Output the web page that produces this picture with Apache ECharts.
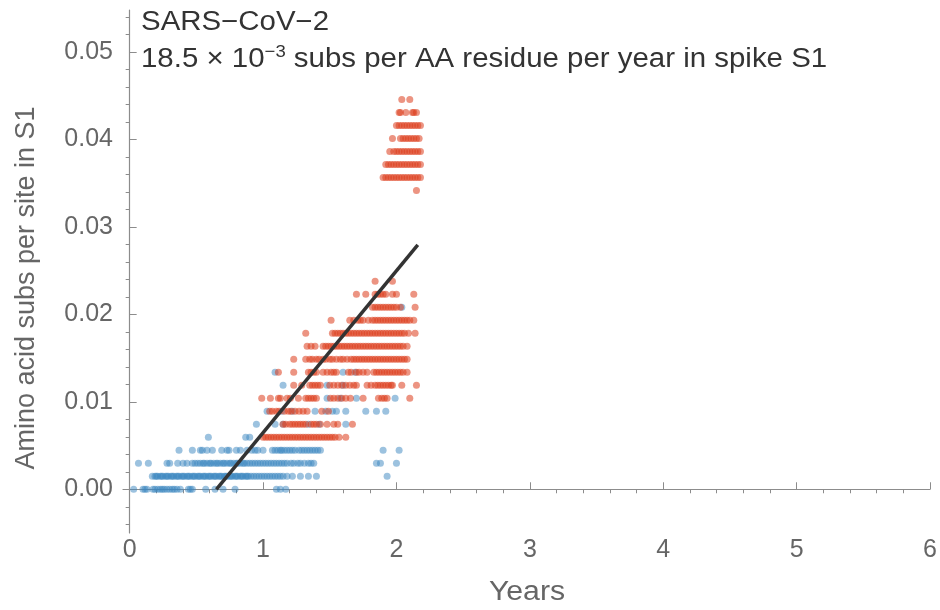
<!DOCTYPE html>
<html>
<head>
<meta charset="utf-8">
<script src="https://cdn.jsdelivr.net/npm/echarts@6/dist/echarts.min.js"></script>
<style>
html,body{margin:0;padding:0;background:#fff;}
#chart{width:940px;height:610px;}
</style>
</head>
<body>
<div id="chart"></div>
<script>
// Discrete substitution levels (subs per site), index = number of AA substitutions
const yLevels = [0, 0.001486, 0.002972, 0.004458, 0.005944, 0.007429, 0.008915, 0.010401,
  0.011887, 0.013373, 0.014859, 0.016345, 0.017831, 0.019316, 0.020802, 0.022288, 0.023774,
  0.025260, 0.026746, 0.028232, 0.029718, 0.031204, 0.032689, 0.034175, 0.035661, 0.037147,
  0.038633, 0.040119, 0.041605, 0.043091, 0.044577];

// Blue points: [level index, years...]
const blueRows = [
  [0, [0.03,0.10,0.115,0.13,0.175,0.19,0.21,0.23,0.245,0.26,0.28,0.30,0.32,0.335,0.355,0.38,0.44,0.455,0.47,0.57,0.64,0.70,0.79,1.10,1.13,1.17]],
  [1, [0.17,0.19,0.20,0.21,0.23,0.24,0.25,0.27,0.28,0.29,0.31,0.32,0.33,0.35,0.36,0.37,0.39,0.40,0.41,0.43,0.44,0.45,0.47,0.48,0.49,0.51,0.52,0.53,0.55,0.56,0.57,0.59,0.60,0.61,0.63,0.64,0.65,0.67,0.68,0.69,0.71,0.72,0.73,0.75,0.76,0.77,0.79,0.80,0.81,0.83,0.84,0.85,0.87,0.88,0.89,0.91,0.93,0.95,0.97,0.99,1.01,1.03,1.05,1.07,1.09,1.11,1.13,1.15,1.18,1.22,1.28,1.34,1.40,1.93]],
  [2, [0.066,0.14,0.28,0.30,0.36,0.40,0.43,0.47,0.49,0.51,0.53,0.55,0.56,0.58,0.60,0.61,0.63,0.65,0.66,0.68,0.70,0.71,0.73,0.75,0.76,0.78,0.80,0.81,0.83,0.85,0.86,0.88,0.90,0.92,0.94,0.96,0.98,1.00,1.02,1.04,1.06,1.08,1.10,1.12,1.14,1.16,1.18,1.21,1.23,1.26,1.28,1.31,1.34,1.36,1.38,1.85,1.88,2.00]],
  [3, [0.37,0.47,0.53,0.545,0.58,0.62,0.69,0.73,0.745,0.80,0.83,0.88,0.915,0.94,0.96,1.00,1.07,1.09,1.11,1.13,1.14,1.16,1.18,1.20,1.22,1.24,1.27,1.29,1.31,1.33,1.35,1.37,1.39,1.41,1.43,1.90,2.02]],
  [4, [0.59,0.87,0.90]],
  [5, [0.95,1.09,1.15,1.34,1.42,1.62]],
  [6, [1.03,1.14,1.22,1.39,1.47,1.52,1.55,1.62,1.77,1.85,1.92]],
  [7, [1.48,1.58,1.70,1.99]],
  [8, [1.15,1.48,1.60]],
  [9, [1.09,1.60,1.69]],
  [14, [2.04]]
];

// Red points: [level index, years...]
const redRows = [
  [4, [1.00,1.02,1.04,1.06,1.08,1.10,1.12,1.14,1.16,1.18,1.20,1.22,1.24,1.26,1.28,1.30,1.32,1.34,1.36,1.38,1.40,1.42,1.44,1.46,1.48,1.50,1.52,1.54,1.57,1.62]],
  [5, [1.15,1.17,1.20,1.22,1.24,1.26,1.28,1.30,1.32,1.36,1.38,1.40,1.43,1.48,1.53,1.56,1.67]],
  [6, [1.05,1.07,1.10,1.12,1.16,1.19,1.21,1.24,1.27,1.30,1.33,1.44,1.49]],
  [7, [0.99,1.055,1.115,1.13,1.18,1.205,1.265,1.32,1.34,1.36,1.38,1.40,1.505,1.53,1.56,1.59,1.62,1.655,1.75,1.865,1.89,1.91,1.93,2.10]],
  [8, [1.23,1.29,1.35,1.37,1.39,1.41,1.43,1.50,1.53,1.56,1.59,1.62,1.65,1.68,1.70,1.78,1.81,1.84,1.86,1.88,1.90,1.92,1.94,1.96,1.97,2.04,2.15]],
  [9, [1.115,1.23,1.34,1.36,1.38,1.40,1.45,1.48,1.51,1.53,1.55,1.64,1.66,1.70,1.72,1.75,1.78,1.83,1.85,1.87,1.89,1.91,1.93,1.95,1.97,1.99,2.01,2.03,2.05,2.08]],
  [10, [1.23,1.32,1.35,1.37,1.40,1.42,1.45,1.47,1.50,1.52,1.55,1.58,1.60,1.63,1.66,1.68,1.70,1.72,1.74,1.76,1.78,1.80,1.82,1.84,1.86,1.88,1.90,1.92,1.94,1.96,1.98,2.00,2.02,2.04,2.06,2.08]],
  [11, [1.33,1.36,1.39,1.45,1.47,1.49,1.51,1.53,1.55,1.57,1.59,1.61,1.63,1.65,1.67,1.69,1.71,1.73,1.75,1.77,1.79,1.81,1.83,1.85,1.87,1.89,1.91,1.93,1.95,1.97,1.99,2.01,2.03,2.05,2.08]],
  [12, [1.32,1.52,1.54,1.56,1.58,1.60,1.62,1.64,1.66,1.68,1.70,1.72,1.74,1.76,1.78,1.80,1.82,1.84,1.86,1.88,1.90,1.92,1.94,1.96,1.98,2.00,2.02,2.04,2.06,2.09,2.14]],
  [13, [1.51,1.65,1.68,1.71,1.73,1.75,1.79,1.82,1.84,1.86,1.88,1.90,1.92,1.94,1.96,1.98,2.00,2.02,2.04,2.06,2.08,2.10,2.13]],
  [14, [1.82,1.84,1.86,1.88,1.90,1.92,1.94,1.96,1.98,2.00,2.03,2.14]],
  [15, [1.70,1.77,1.84,1.86,1.88,1.90,1.92,1.97,2.00,2.13]],
  [16, [1.84,1.97]],
  [23, [2.15]],
  [24, [1.90,1.92,1.94,1.96,1.98,2.00,2.02,2.04,2.06,2.08,2.10,2.12,2.14,2.16,2.18]],
  [25, [1.92,1.94,1.96,1.98,2.00,2.02,2.04,2.06,2.08,2.10,2.12,2.14,2.16,2.18]],
  [26, [1.95,1.98,2.00,2.02,2.04,2.06,2.08,2.10,2.12,2.14,2.16,2.18]],
  [27, [1.97,2.03,2.05,2.07,2.09,2.11,2.13,2.15,2.17]],
  [28, [2.00,2.02,2.04,2.06,2.08,2.10,2.12,2.14,2.16,2.18]],
  [29, [2.02,2.03,2.07,2.12,2.13,2.15]],
  [30, [2.04,2.10]]
];

// Linear fit (18.5e-3 per year)
const fitX = [0.65, 2.16];
const fitY = [0, 0.02794];

// Ticks
const xMajor = [0, 1, 2, 3, 4, 5, 6];
const xMajorLabels = ['0', '1', '2', '3', '4', '5', '6'];
const yMajor = [0, 0.01, 0.02, 0.03, 0.04, 0.05];
const yMajorLabels = ['0.00', '0.01', '0.02', '0.03', '0.04', '0.05'];
const xMinor = [0.2,0.4,0.6,0.8,1.2,1.4,1.6,1.8,2.2,2.4,2.6,2.8,3.2,3.4,3.6,3.8,4.2,4.4,4.6,4.8,5.2,5.4,5.6,5.8];
const yMinor = [-0.004,-0.002,0.002,0.004,0.006,0.008,0.012,0.014,0.016,0.018,0.022,0.024,0.026,0.028,0.032,0.034,0.036,0.038,0.042,0.044,0.046,0.048,0.052,0.054];

function toPoints(rows) {
  const out = [];
  rows.forEach(function (r) {
    r[1].forEach(function (x) { out.push([x, yLevels[r[0]]]); });
  });
  return out;
}

const FONT = '"Liberation Sans", Arial, sans-serif';
const AXIS_COLOR = '#8c8c8c';
const LABEL_COLOR = '#666666';

const chart = echarts.init(document.getElementById('chart'), null, {renderer: 'canvas'});

const xBase = {
  type: 'value', min: -0.05, max: 6,
  splitLine: {show: false}
};
const yBase = {
  type: 'value', min: -0.005, max: 0.0548,
  splitLine: {show: false}
};

chart.setOption({
  animation: false,
  backgroundColor: '#ffffff',
  grid: {left: 123, right: 10, top: 10, bottom: 77, containLabel: false},
  xAxis: [
    Object.assign({}, xBase, {
      axisLine: {show: true, lineStyle: {color: AXIS_COLOR, width: 1.2}},
      axisTick: {show: true, inside: true, length: 7, customValues: xMajor, lineStyle: {color: AXIS_COLOR, width: 1}},
      axisLabel: {show: true, customValues: xMajor, margin: 5, color: LABEL_COLOR, fontSize: 25, fontFamily: FONT,
        formatter: function (v) { const i = xMajor.indexOf(v); return i >= 0 ? xMajorLabels[i] : ''; }}
    }),
    Object.assign({}, xBase, {
      axisLine: {show: false},
      axisTick: {show: true, inside: true, length: 4, customValues: xMinor, lineStyle: {color: AXIS_COLOR, width: 1}},
      axisLabel: {show: false}
    })
  ],
  yAxis: [
    Object.assign({}, yBase, {
      axisLine: {show: true, lineStyle: {color: AXIS_COLOR, width: 1.2}},
      axisTick: {show: true, inside: true, length: 7, customValues: yMajor, lineStyle: {color: AXIS_COLOR, width: 1}},
      axisLabel: {show: true, customValues: yMajor, margin: 10, color: LABEL_COLOR, fontSize: 25, fontFamily: FONT,
        formatter: function (v) { const i = yMajor.findIndex(function (t) { return Math.abs(t - v) < 1e-9; }); return i >= 0 ? yMajorLabels[i] : ''; }}
    }),
    Object.assign({}, yBase, {
      axisLine: {show: false},
      axisTick: {show: true, inside: true, length: 4, customValues: yMinor, lineStyle: {color: AXIS_COLOR, width: 1}},
      axisLabel: {show: false}
    })
  ],
  graphic: [
    {type: 'text', x: 141, y: 9, scaleX: 1.09, silent: true,
      style: {text: 'SARS\u2212CoV\u22122', fill: '#333333', font: '27px ' + FONT, align: 'left', verticalAlign: 'top'}},
    {type: 'text', x: 141, y: 44, scaleX: 1.09, silent: true,
      style: {
        text: '18.5 \u00d7 10{sup|\u22123} subs per AA residue per year in spike S1',
        fill: '#333333', font: '27px ' + FONT, lineHeight: 32, align: 'left', verticalAlign: 'top',
        rich: {sup: {fontSize: 17, fontFamily: FONT, fill: '#333333', verticalAlign: 'top', lineHeight: 17}}
      }},
    {type: 'text', x: 27, y: 288, rotation: Math.PI / 2, silent: true,
      style: {text: 'Amino acid subs per site in S1', fill: LABEL_COLOR, font: '27px ' + FONT, align: 'center', verticalAlign: 'middle'}},
    {type: 'text', x: 527, y: 593, scaleX: 1.12, silent: true,
      style: {text: 'Years', fill: LABEL_COLOR, font: '27px ' + FONT, align: 'center', verticalAlign: 'middle'}}
  ],
  series: [
    {type: 'scatter', name: 'blue', xAxisIndex: 0, yAxisIndex: 0, data: toPoints(blueRows),
      symbol: 'circle', symbolSize: 7, itemStyle: {color: '#3a85c0', opacity: 0.5}, silent: true},
    {type: 'scatter', name: 'red', xAxisIndex: 0, yAxisIndex: 0, data: toPoints(redRows),
      symbol: 'circle', symbolSize: 7, itemStyle: {color: '#dd3c1c', opacity: 0.55}, silent: true},
    {type: 'line', name: 'fit', xAxisIndex: 0, yAxisIndex: 0,
      data: fitX.map(function (x, i) { return [x, fitY[i]]; }),
      symbol: 'none', lineStyle: {color: '#333333', width: 3.5}, silent: true, z: 5}
  ]
});
</script>
</body>
</html>
